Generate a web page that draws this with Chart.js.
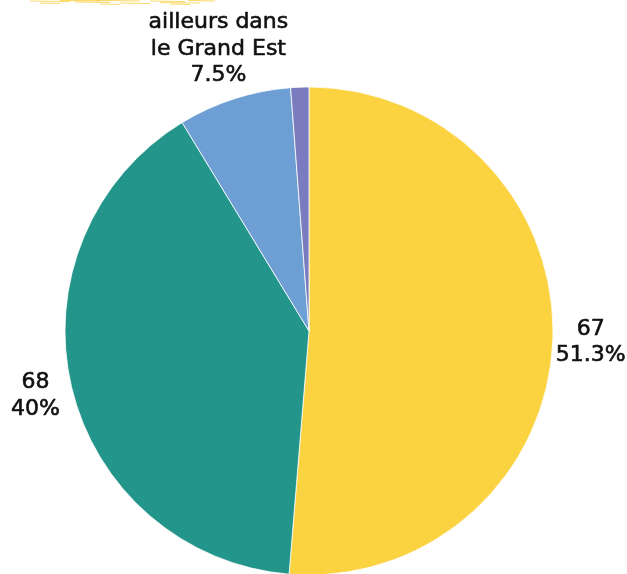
<!DOCTYPE html>
<html>
<head>
<meta charset="utf-8">
<script src="https://cdn.jsdelivr.net/npm/chart.js@4"></script>
<style>
html,body{margin:0;padding:0;background:#fff;}
#wrap{position:relative;width:627px;height:574px;}
</style>
</head>
<body>
<div id="wrap"><canvas id="c" width="627" height="574"></canvas></div>
<script>
const categories = ["67", "68", "ailleurs dans le Grand Est", "autres"];
const percentages = [51.3, 40, 7.5, 1.2];
const labelLines = [["67", "51.3%"], ["68", "40%"], ["ailleurs dans", "le Grand Est", "7.5%"], []];
const colors = ["#FBD23F", "#23958A", "#6D9FD4", "#7A7CBF"];

// label placement: distance beyond outer radius per slice
const labelPlacement = [
  {extra: 38},
  {extra: 37},
  {extra: 52},
  null
];

const labelPlugin = {
  id: "sliceLabels",
  afterDatasetsDraw(chart) {
    const ctx = chart.ctx;
    const meta = chart.getDatasetMeta(0);
    ctx.save();
    ctx.font = "22px 'DejaVu Sans'";
    ctx.fillStyle = "#111";
    ctx.strokeStyle = "#111";
    ctx.lineWidth = 0.6;
    ctx.lineJoin = "round";
    ctx.textBaseline = "middle";
    ctx.textAlign = "center";
    const lh = 26.5;
    meta.data.forEach((arc, i) => {
      const p = labelPlacement[i];
      const lines = labelLines[i];
      if (!p || !lines.length) return;
      const mid = (arc.startAngle + arc.endAngle) / 2;
      const R = arc.outerRadius + p.extra;
      const x = arc.x + Math.cos(mid) * R;
      const y = arc.y + Math.sin(mid) * R;
      const n = lines.length;
      lines.forEach((t, k) => {
        const yy = y + (k - (n - 1) / 2) * lh;
        ctx.fillText(t, x, yy);
        ctx.strokeText(t, x, yy);
      });
    });
    ctx.restore();
  }
};

// decorative brush stroke at the top-left (not data)
const brushPlugin = {
  id: "brush",
  beforeDraw(chart) {
    const ctx = chart.ctx;
    ctx.save();
    ctx.strokeStyle = "rgba(250,205,60,0.75)";
    ctx.lineWidth = 1.2;
    const segs = [[30,1,70],[75,2,110],[95,0.5,140],[120,3,150],[150,1,185],[160,2.5,200],[188,0.5,215],[40,3,60],[100,4,120],[170,4,190],[60,0.3,100]];
    segs.forEach(s => { ctx.beginPath(); ctx.moveTo(s[0], s[1]); ctx.lineTo(s[2], s[1] + 0.5); ctx.stroke(); });
    ctx.restore();
  }
};

new Chart(document.getElementById("c"), {
  type: "pie",
  data: {
    labels: categories,
    datasets: [{
      data: percentages,
      backgroundColor: colors,
      borderColor: "#ffffff",
      borderWidth: 0.8,
      radius: 244
    }]
  },
  options: {
    responsive: false,
    animation: false,
    layout: {padding: {top: 88, bottom: 0, left: 0, right: 9}},
    plugins: {legend: {display: false}, tooltip: {enabled: false}}
  },
  plugins: [brushPlugin, labelPlugin]
});
</script>
</body>
</html>
